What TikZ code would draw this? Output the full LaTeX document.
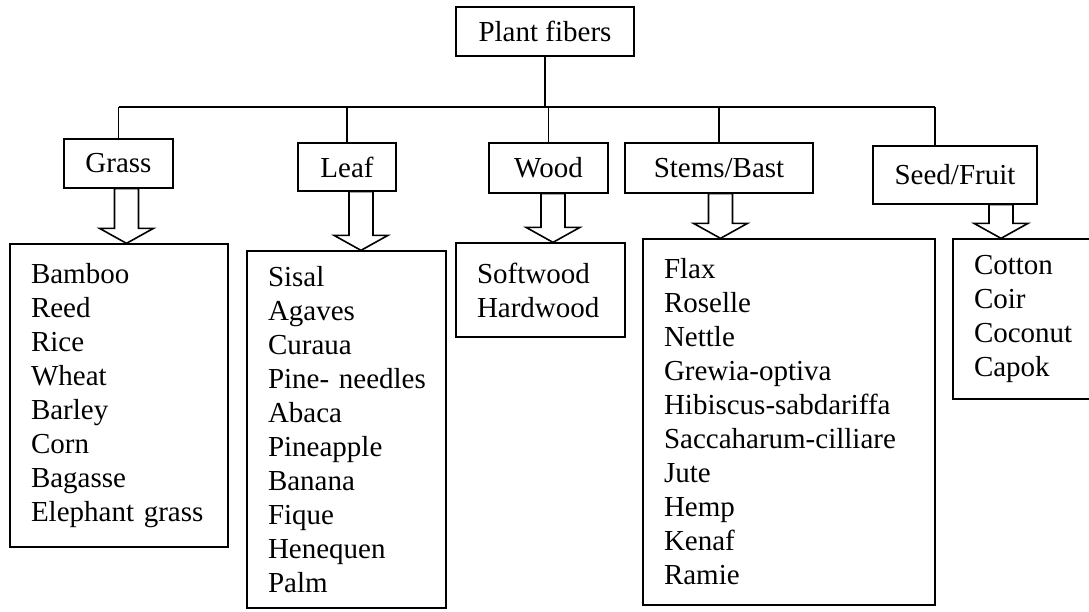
\documentclass[tikz,border=0pt]{standalone}
\usepackage{fontspec}
\setmainfont{Liberation Serif}
\usepackage{tikz}
\usetikzlibrary{calc}

% hollow block arrow from a class box down to its list box
\newcommand{\fatarrow}[3]{%
  \draw[hollow] ($(#1.south)+(#3-12,0)$)
    -- ($(#1.south |- #2.north)+(#3-12,-15)$) -- ++(-15,0)
    -- ($(#1.south |- #2.north)+(#3,0)$)
    -- ($(#1.south |- #2.north)+(#3+27,-15)$) -- ++(-15,0)
    -- ($(#1.south)+(#3+12,0)$) -- cycle;}

\begin{document}
\begin{tikzpicture}[
  x=1pt,y=-1pt,
  every node/.style={font=\fontsize{29}{34}\selectfont},
  cls/.style={draw,line width=1.3pt,inner sep=0pt,align=center},
  list/.style={draw,line width=1.3pt,inner xsep=21pt,inner ysep=0pt,align=left},
  link/.style={line width=1.3pt},
  hollow/.style={line width=1.6pt,line join=miter,fill=white}
]
  \path[use as bounding box,clip] (0,0) rectangle (1089,611);

  \node[cls,minimum width=178pt,minimum height=49pt] (root) at (545,31.5) {Plant fibers};

  \node[cls,minimum width=109pt,minimum height=49pt] (grass) at (118.5,163.5) {Grass};
  \node[cls,minimum width=98pt,minimum height=48pt] (leaf) at (347,167) {Leaf};
  \node[cls,minimum width=119pt,minimum height=50pt] (wood) at (548.5,168) {Wood};
  \node[cls,minimum width=188pt,minimum height=50pt] (stems) at (719,168) {Stems/Bast};
  \node[cls,minimum width=164pt,minimum height=58pt] (seed) at (955,175) {Seed/Fruit};

  \node[list,text width=176pt,minimum height=303pt] (grasslist) at (119,395.5)
    {Bamboo\\Reed\\Rice\\Wheat\\Barley\\Corn\\Bagasse\\Elephant grass};
  \node[list,text width=157pt,minimum height=357pt] (leaflist) at (346.5,429.5)
    {Sisal\\Agaves\\Curaua\\\mbox{Pine- needles}\\Abaca\\Pineapple\\Banana\\Fique\\Henequen\\Palm};
  \node[list,text width=127pt,minimum height=94pt] (woodlist) at (540.5,290)
    {Softwood\\Hardwood};
  \node[list,text width=250pt,minimum height=366pt] (stemslist) at (789,422)
    {Flax\\Roselle\\Nettle\\Grewia-optiva\\Hibiscus-sabdariffa\\Saccaharum-cilliare\\Jute\\Hemp\\Kenaf\\Ramie};
  \node[list,text width=112pt,minimum height=160pt] (seedlist) at (1030,319)
    {Cotton\\Coir\\Coconut\\Capok};

  % tree lines
  \coordinate (bus) at (0,107);
  \coordinate (seedjoin) at (935,107);
  \draw[link] (root.south) -- (root.south |- bus);
  \draw[link] (grass.north |- bus) -- (seedjoin);
  \draw[link] (grass.north |- bus) -- (grass.north);
  \draw[link] (leaf.north |- bus) -- (leaf.north);
  \draw[link] (wood.north |- bus) -- (wood.north);
  \draw[link] (stems.north |- bus) -- (stems.north);
  \draw[link] (seedjoin) -- (seedjoin |- seed.north);

  \fatarrow{grass}{grasslist}{8}
  \fatarrow{leaf}{leaflist}{14}
  \fatarrow{wood}{woodlist}{4.5}
  \fatarrow{stems}{stemslist}{1.5}
  \fatarrow{seed}{seedlist}{46}
\end{tikzpicture}
\end{document}
